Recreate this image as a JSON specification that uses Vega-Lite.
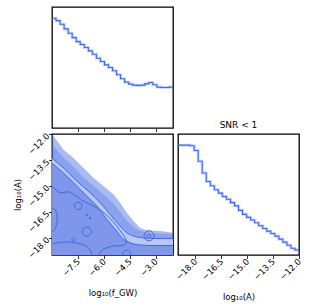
{
"$schema": "https://vega.github.io/schema/vega-lite/v6.json",
"padding": {"left": 12, "top": 6, "right": 5, "bottom": 5},
"background": "white",
"config": {
  "font": "DejaVu Sans",
  "view": {"stroke": "black", "strokeWidth": 1.3},
  "axis": {"domain": false, "grid": false, "tickColor": "black", "tickSize": 3.5, "tickWidth": 0.8, "labelFontSize": 8.5, "labelColor": "black", "titleFontSize": 8.5, "titleFontWeight": "normal", "titleColor": "black", "labelPadding": 1, "labelOverlap": false, "labelFlush": false, "tickCount": 10},
  "title": {"fontSize": 9, "fontWeight": "normal", "color": "black"}
},
"datasets": {
  "histF": [
    {"x": -9.0, "v": 0.907}, {"x": -8.767, "v": 0.887}, {"x": -8.533, "v": 0.857}, {"x": -8.3, "v": 0.819}, {"x": -8.067, "v": 0.783},
    {"x": -7.833, "v": 0.747}, {"x": -7.6, "v": 0.714}, {"x": -7.367, "v": 0.69}, {"x": -7.133, "v": 0.665}, {"x": -6.9, "v": 0.637},
    {"x": -6.667, "v": 0.61}, {"x": -6.433, "v": 0.577}, {"x": -6.2, "v": 0.549}, {"x": -5.967, "v": 0.522}, {"x": -5.733, "v": 0.5},
    {"x": -5.5, "v": 0.473}, {"x": -5.267, "v": 0.44}, {"x": -5.033, "v": 0.407}, {"x": -4.8, "v": 0.379}, {"x": -4.567, "v": 0.363},
    {"x": -4.333, "v": 0.354}, {"x": -4.1, "v": 0.352}, {"x": -3.867, "v": 0.354}, {"x": -3.633, "v": 0.365}, {"x": -3.4, "v": 0.376},
    {"x": -3.167, "v": 0.357}, {"x": -2.933, "v": 0.338}, {"x": -2.7, "v": 0.335}, {"x": -2.467, "v": 0.335}, {"x": -2.233, "v": 0.338},
    {"x": -2.0, "v": 0.338}
  ],
  "histA": [
    {"x": -19.0, "v": 0.908}, {"x": -18.767, "v": 0.908}, {"x": -18.533, "v": 0.908}, {"x": -18.3, "v": 0.903}, {"x": -18.067, "v": 0.864},
    {"x": -17.833, "v": 0.775}, {"x": -17.6, "v": 0.678}, {"x": -17.367, "v": 0.608}, {"x": -17.133, "v": 0.572}, {"x": -16.9, "v": 0.539},
    {"x": -16.667, "v": 0.511}, {"x": -16.433, "v": 0.483}, {"x": -16.2, "v": 0.461}, {"x": -15.967, "v": 0.433}, {"x": -15.733, "v": 0.406},
    {"x": -15.5, "v": 0.369}, {"x": -15.267, "v": 0.336}, {"x": -15.033, "v": 0.311}, {"x": -14.8, "v": 0.289}, {"x": -14.567, "v": 0.267},
    {"x": -14.333, "v": 0.242}, {"x": -14.1, "v": 0.219}, {"x": -13.867, "v": 0.197}, {"x": -13.633, "v": 0.178}, {"x": -13.4, "v": 0.156},
    {"x": -13.167, "v": 0.131}, {"x": -12.933, "v": 0.106}, {"x": -12.7, "v": 0.081}, {"x": -12.467, "v": 0.056}, {"x": -12.233, "v": 0.042},
    {"x": -12.0, "v": 0.042}
  ],
  "edge": [
    {"x": -9.0, "y": -12.0}, {"x": -8.85, "y": -12.2}, {"x": -8.35, "y": -12.89}, {"x": -7.77, "y": -13.37}, {"x": -7.19, "y": -13.95},
    {"x": -6.61, "y": -14.53}, {"x": -6.03, "y": -15.01}, {"x": -5.45, "y": -15.49}, {"x": -5.07, "y": -15.97}, {"x": -4.68, "y": -16.55},
    {"x": -4.2, "y": -17.13}, {"x": -3.91, "y": -17.42}, {"x": -3.52, "y": -17.57}, {"x": -2.75, "y": -17.61}, {"x": -2.0, "y": -17.71}
  ],
  "edgeInner": [
    {"x": -9.0, "y": -12.6}, {"x": -8.35, "y": -13.35}, {"x": -7.77, "y": -13.9}, {"x": -7.19, "y": -14.5}, {"x": -6.61, "y": -15.0},
    {"x": -6.03, "y": -15.5}, {"x": -5.45, "y": -16.0}, {"x": -5.07, "y": -16.5}, {"x": -4.68, "y": -17.0}, {"x": -4.2, "y": -17.45},
    {"x": -3.91, "y": -17.6}, {"x": -3.52, "y": -17.7}, {"x": -2.75, "y": -17.75}, {"x": -2.0, "y": -17.8}
  ],
  "l1": [
    {"x": -9.0, "y": -13.4}, {"x": -8.35, "y": -13.95}, {"x": -7.57, "y": -14.72}, {"x": -6.8, "y": -15.39}, {"x": -6.22, "y": -15.97},
    {"x": -5.65, "y": -16.64}, {"x": -5.07, "y": -17.32}, {"x": -4.68, "y": -17.71}, {"x": -4.1, "y": -17.95}, {"x": -3.62, "y": -18.02},
    {"x": -2.75, "y": -18.05}, {"x": -2.0, "y": -18.05}
  ],
  "l2": [
    {"x": -9.0, "y": -13.7}, {"x": -8.35, "y": -14.24}, {"x": -7.57, "y": -15.01}, {"x": -6.99, "y": -15.59}, {"x": -6.41, "y": -16.16},
    {"x": -5.84, "y": -16.93}, {"x": -5.26, "y": -17.61}, {"x": -4.97, "y": -18.0}, {"x": -4.49, "y": -18.29}, {"x": -3.91, "y": -18.42},
    {"x": -3.2, "y": -18.45}, {"x": -2.0, "y": -18.45}
  ],
  "openLines": [
    {"id": "c3", "o": 1, "x": -9.0, "y": -15.01}, {"id": "c3", "o": 2, "x": -8.54, "y": -15.39}, {"id": "c3", "o": 3, "x": -8.06, "y": -15.35},
    {"id": "c3", "o": 4, "x": -7.57, "y": -15.59}, {"id": "c3", "o": 5, "x": -7.19, "y": -15.88}, {"id": "c3", "o": 6, "x": -6.61, "y": -16.16},
    {"id": "c3", "o": 7, "x": -6.13, "y": -16.45}, {"id": "c3", "o": 8, "x": -5.65, "y": -16.88}, {"id": "c3", "o": 9, "x": -5.26, "y": -17.32},
    {"id": "c3", "o": 10, "x": -4.97, "y": -17.71}, {"id": "c3", "o": 11, "x": -4.78, "y": -18.0}, {"id": "c3", "o": 12, "x": -4.7, "y": -18.3},
    {"id": "c3", "o": 13, "x": -4.95, "y": -18.45}, {"id": "c3", "o": 14, "x": -5.45, "y": -18.48}, {"id": "c3", "o": 15, "x": -6.03, "y": -18.67},
    {"id": "c3", "o": 16, "x": -6.3, "y": -19.0},
    {"id": "c7", "o": 1, "x": -9.0, "y": -16.3}, {"id": "c7", "o": 2, "x": -8.85, "y": -16.35}, {"id": "c7", "o": 3, "x": -8.72, "y": -16.6},
    {"id": "c7", "o": 4, "x": -8.7, "y": -17.0}, {"id": "c7", "o": 5, "x": -8.78, "y": -17.4}, {"id": "c7", "o": 6, "x": -8.9, "y": -17.6},
    {"id": "c7", "o": 7, "x": -9.0, "y": -17.62},
    {"id": "c9", "o": 1, "x": -9.0, "y": -18.35}, {"id": "c9", "o": 2, "x": -8.3, "y": -18.25}, {"id": "c9", "o": 3, "x": -7.6, "y": -18.3},
    {"id": "c9", "o": 4, "x": -7.1, "y": -18.45}, {"id": "c9", "o": 5, "x": -6.8, "y": -18.7}, {"id": "c9", "o": 6, "x": -6.7, "y": -19.0},
    {"id": "c10", "o": 1, "x": -4.9, "y": -19.0}, {"id": "c10", "o": 2, "x": -4.85, "y": -18.8}, {"id": "c10", "o": 3, "x": -4.68, "y": -18.72},
    {"id": "c10", "o": 4, "x": -4.5, "y": -18.8}, {"id": "c10", "o": 5, "x": -4.45, "y": -19.0}
  ],
  "loops": [
    {"id": "c4", "o": 1, "x": -7.7, "y": -16.1}, {"id": "c4", "o": 2, "x": -7.62, "y": -15.98}, {"id": "c4", "o": 3, "x": -7.46, "y": -15.95},
    {"id": "c4", "o": 4, "x": -7.3, "y": -16.02}, {"id": "c4", "o": 5, "x": -7.26, "y": -16.18}, {"id": "c4", "o": 6, "x": -7.36, "y": -16.34},
    {"id": "c4", "o": 7, "x": -7.55, "y": -16.36}, {"id": "c4", "o": 8, "x": -7.68, "y": -16.25},
    {"id": "c5", "o": 1, "x": -7.25, "y": -17.6}, {"id": "c5", "o": 2, "x": -7.12, "y": -17.42}, {"id": "c5", "o": 3, "x": -6.95, "y": -17.4},
    {"id": "c5", "o": 4, "x": -6.78, "y": -17.48}, {"id": "c5", "o": 5, "x": -6.72, "y": -17.7}, {"id": "c5", "o": 6, "x": -6.85, "y": -17.88},
    {"id": "c5", "o": 7, "x": -7.08, "y": -17.9}, {"id": "c5", "o": 8, "x": -7.22, "y": -17.8},
    {"id": "d1", "o": 1, "x": -7.04, "y": -16.68}, {"id": "d1", "o": 2, "x": -6.98, "y": -16.62}, {"id": "d1", "o": 3, "x": -6.92, "y": -16.68},
    {"id": "d1", "o": 4, "x": -6.98, "y": -16.74},
    {"id": "d2", "o": 1, "x": -6.86, "y": -16.86}, {"id": "d2", "o": 2, "x": -6.8, "y": -16.8}, {"id": "d2", "o": 3, "x": -6.74, "y": -16.86},
    {"id": "d2", "o": 4, "x": -6.8, "y": -16.92},
    {"id": "d3", "o": 1, "x": -7.87, "y": -18.11}, {"id": "d3", "o": 2, "x": -7.77, "y": -18.01}, {"id": "d3", "o": 3, "x": -7.67, "y": -18.11},
    {"id": "d3", "o": 4, "x": -7.77, "y": -18.21},
    {"id": "c6", "o": 1, "x": -3.1, "y": -17.89}, {"id": "c6", "o": 2, "x": -3.185, "y": -17.685}, {"id": "c6", "o": 3, "x": -3.39, "y": -17.6},
    {"id": "c6", "o": 4, "x": -3.595, "y": -17.685}, {"id": "c6", "o": 5, "x": -3.68, "y": -17.89}, {"id": "c6", "o": 6, "x": -3.595, "y": -18.095},
    {"id": "c6", "o": 7, "x": -3.39, "y": -18.18}, {"id": "c6", "o": 8, "x": -3.185, "y": -18.095},
    {"id": "c6b", "o": 1, "x": -3.28, "y": -17.89}, {"id": "c6b", "o": 2, "x": -3.39, "y": -17.78}, {"id": "c6b", "o": 3, "x": -3.5, "y": -17.89},
    {"id": "c6b", "o": 4, "x": -3.39, "y": -18.0}
  ]
},
"bounds": "flush",
"spacing": 6,
"vconcat": [
  {
    "width": 121, "height": 121,
    "data": {"name": "histF"},
    "layer": [
      {"mark": {"type": "line", "interpolate": "step-after", "color": "#4169E1", "strokeWidth": 3, "opacity": 0.25},
       "encoding": {"x": {"field": "x", "type": "quantitative", "scale": {"domain": [-9, -2], "nice": false, "zero": false}, "axis": {"values": [-7.5, -6, -4.5, -3], "tickCount": 10, "labels": false, "title": null}},
                    "y": {"field": "v", "type": "quantitative", "scale": {"domain": [0, 1], "nice": false}, "axis": null}}},
      {"mark": {"type": "line", "interpolate": "step-after", "color": "#4169E1", "strokeWidth": 1.1},
       "encoding": {"x": {"field": "x", "type": "quantitative"}, "y": {"field": "v", "type": "quantitative"}}}
    ]
  },
  {
    "bounds": "flush",
    "spacing": 5,
    "hconcat": [
      {
        "width": 121, "height": 121,
        "layer": [
          {"data": {"name": "edge"}, "mark": {"type": "area", "color": "#4169E1", "opacity": 0.45, "clip": true},
           "encoding": {"x": {"field": "x", "type": "quantitative", "scale": {"domain": [-9, -2], "nice": false, "zero": false},
                               "axis": {"values": [-7.5, -6, -4.5, -3], "tickCount": 10, "format": ".1f", "labelAngle": -45, "labelAlign": "right", "labelBaseline": "middle", "labelOverlap": false, "title": "log₁₀(f_GW)", "titlePadding": 11}},
                        "y": {"field": "y", "type": "quantitative", "scale": {"domain": [-19, -12], "nice": false, "zero": false},
                               "axis": {"values": [-18, -16.5, -15, -13.5, -12], "tickCount": 10, "format": ".1f", "labelAngle": -45, "labelAlign": "right", "labelBaseline": "middle", "labelOverlap": false, "title": "log₁₀(A)", "titlePadding": 4}},
                        "y2": {"datum": -19}}},
          {"data": {"name": "edgeInner"}, "mark": {"type": "area", "color": "#4169E1", "opacity": 0.3, "clip": true},
           "encoding": {"x": {"field": "x", "type": "quantitative"}, "y": {"field": "y", "type": "quantitative"}, "y2": {"datum": -19}}},
          {"data": {"name": "l1"}, "mark": {"type": "area", "color": "#b9c7f4", "opacity": 1, "clip": true},
           "encoding": {"x": {"field": "x", "type": "quantitative"}, "y": {"field": "y", "type": "quantitative"}, "y2": {"datum": -19}}},
          {"data": {"name": "l2"}, "mark": {"type": "area", "color": "#7f97ea", "opacity": 1, "clip": true},
           "encoding": {"x": {"field": "x", "type": "quantitative"}, "y": {"field": "y", "type": "quantitative"}, "y2": {"datum": -19}}},
          {"data": {"name": "l1"}, "mark": {"type": "line", "color": "#4169E1", "strokeWidth": 1, "interpolate": "monotone", "clip": true},
           "encoding": {"x": {"field": "x", "type": "quantitative"}, "y": {"field": "y", "type": "quantitative"}}},
          {"data": {"name": "l2"}, "mark": {"type": "line", "color": "#4169E1", "strokeWidth": 1, "interpolate": "monotone", "clip": true},
           "encoding": {"x": {"field": "x", "type": "quantitative"}, "y": {"field": "y", "type": "quantitative"}}},
          {"data": {"name": "openLines"}, "mark": {"type": "line", "color": "#4169E1", "strokeWidth": 1, "interpolate": "cardinal", "clip": true},
           "encoding": {"x": {"field": "x", "type": "quantitative"}, "y": {"field": "y", "type": "quantitative"}, "detail": {"field": "id"}, "order": {"field": "o", "type": "quantitative"}}},
          {"data": {"name": "loops"}, "mark": {"type": "line", "color": "#4169E1", "strokeWidth": 1, "interpolate": "cardinal-closed", "clip": true},
           "encoding": {"x": {"field": "x", "type": "quantitative"}, "y": {"field": "y", "type": "quantitative"}, "detail": {"field": "id"}, "order": {"field": "o", "type": "quantitative"}}}
        ]
      },
      {
        "width": 121, "height": 121,
        "title": {"text": "SNR < 1", "offset": 4},
        "data": {"name": "histA"},
        "layer": [
          {"mark": {"type": "line", "interpolate": "step-after", "color": "#4169E1", "strokeWidth": 3, "opacity": 0.25},
           "encoding": {"x": {"field": "x", "type": "quantitative", "scale": {"domain": [-19, -12], "nice": false, "zero": false},
                               "axis": {"values": [-18, -16.5, -15, -13.5, -12], "tickCount": 10, "format": ".1f", "labelAngle": -45, "labelAlign": "right", "labelBaseline": "middle", "labelOverlap": false, "title": "log₁₀(A)", "titlePadding": 11}},
                        "y": {"field": "v", "type": "quantitative", "scale": {"domain": [0, 1], "nice": false}, "axis": null}}},
          {"mark": {"type": "line", "interpolate": "step-after", "color": "#4169E1", "strokeWidth": 1.1},
           "encoding": {"x": {"field": "x", "type": "quantitative"}, "y": {"field": "v", "type": "quantitative"}}}
        ]
      }
    ]
  }
]
}
